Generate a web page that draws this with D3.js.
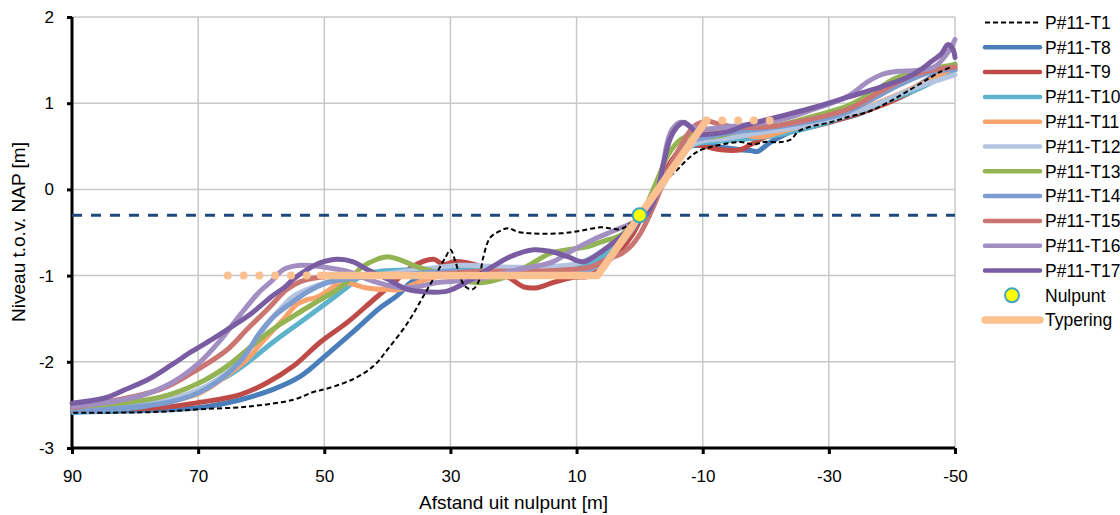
<!DOCTYPE html>
<html><head><meta charset="utf-8">
<script src="https://cdn.jsdelivr.net/npm/d3@7"></script>
<style>
html,body{margin:0;padding:0;background:#fff;}
svg{display:block;}
text{font-family:"Liberation Sans",Arial,sans-serif;fill:#000;}
</style></head><body>
<svg id="chart" width="1120" height="515"></svg>
<script>
// ---- data (distance [m], level [m NAP]) ----
const xTicks = [90,70,50,30,10,-10,-30,-50];
const yTicks = [-3,-2,-1,0,1,2];
const seriesNames = ["P#11-T1","P#11-T8","P#11-T9","P#11-T10","P#11-T11","P#11-T12","P#11-T13","P#11-T14","P#11-T15","P#11-T16","P#11-T17"];
const seriesColors = ["#000000","#4A7EBB","#BE4B48","#5DB3CB","#F8A36E","#B3C4E0","#94B454","#7D9CD0","#CB7573","#A28EC1","#7A5CA3"];

const t1 = [[89.8,-2.59],[84,-2.59],[76,-2.58],[69.7,-2.55],[62.2,-2.52],[54.9,-2.44],[51.7,-2.35],[49.5,-2.31],[45.4,-2.2],[42.2,-2.05],[40,-1.86],[36.8,-1.55],[34.3,-1.24],[32.1,-0.96],[30.8,-0.79],[30,-0.70],[29.2,-0.84],[28.4,-1.03],[27.6,-1.13],[26.5,-1.16],[25.6,-1.08],[24.8,-0.79],[23.7,-0.56],[22.1,-0.48],[20.8,-0.45],[19.4,-0.49],[17.3,-0.51],[12.5,-0.51],[9.4,-0.48],[6.2,-0.44],[3,-0.46],[1.1,-0.37],[-0.2,-0.28],[-1.7,-0.12],[-3.3,0.02],[-4.4,0.12],[-6,0.23],[-7.6,0.35],[-9.2,0.44],[-11.7,0.50],[-16,0.55],[-18.1,0.52],[-19.7,0.55],[-22.4,0.55],[-24,0.58],[-25.1,0.67],[-26.7,0.72],[-30.3,0.78],[-33,0.84],[-36.2,0.90],[-39.4,1.01],[-42.5,1.14],[-45.7,1.28],[-47.8,1.37],[-49.4,1.42]];
const t8 = [[89.8,-2.58],[69.7,-2.53],[63.3,-2.44],[58.1,-2.32],[53.8,-2.17],[49.5,-1.91],[45.4,-1.65],[41.1,-1.37],[38.4,-1.23],[36.3,-1.08],[33.2,-0.96],[30,-0.94],[25.2,-0.97],[18.9,-1.0],[12.5,-0.97],[7.8,-0.95],[4.6,-0.81],[2.2,-0.58],[-0.2,-0.31],[-2.5,-0.02],[-4.9,0.29],[-7.3,0.49],[-9.7,0.51],[-12.9,0.49],[-16,0.46],[-17.6,0.45],[-18.7,0.44],[-20.8,0.55],[-25.1,0.70],[-30.3,0.79],[-34.6,0.87],[-38.3,0.99],[-40.3,1.07],[-43,1.16],[-46.2,1.30],[-48.9,1.42],[-50,1.45]];
const t9 = [[89.8,-2.55],[76,-2.53],[69.7,-2.47],[63.3,-2.38],[59,-2.24],[54.9,-2.05],[50.6,-1.77],[46.3,-1.54],[42.2,-1.28],[39,-1.08],[35.9,-0.89],[32.7,-0.81],[31.1,-0.87],[29.5,-0.84],[28.4,-0.84],[26.3,-0.87],[23.7,-0.94],[21,-1.01],[18.4,-1.13],[16.2,-1.14],[13.7,-1.08],[10.5,-1.02],[7.8,-1.0],[5.4,-0.84],[3,-0.70],[1.1,-0.52],[-0.9,-0.23],[-3,0.06],[-5.2,0.35],[-7.3,0.52],[-9.7,0.51],[-12.9,0.46],[-16,0.46],[-17.6,0.52],[-20,0.61],[-24,0.67],[-30.3,0.78],[-36.7,0.93],[-41.4,1.07],[-46.2,1.25],[-50,1.39]];
const t10 = [[89.8,-2.59],[78.7,-2.52],[74,-2.44],[69.7,-2.32],[65.4,-2.17],[62.2,-2.01],[58.1,-1.77],[53.8,-1.54],[49.5,-1.31],[46.3,-1.13],[44.3,-1.01],[41.1,-0.95],[33.7,-0.93],[26.8,-0.90],[18.9,-0.93],[11,-0.92],[7,-0.84],[3.8,-0.64],[-0.2,-0.32],[-3.3,0.06],[-6.2,0.37],[-8.6,0.52],[-11.3,0.55],[-16,0.58],[-22.4,0.64],[-30.3,0.79],[-38.3,1.0],[-44.6,1.18],[-50,1.39]];
const t11 = [[89.8,-2.55],[77.6,-2.49],[69.7,-2.36],[64.6,-2.11],[62.2,-1.97],[60.2,-1.80],[58.3,-1.65],[56.5,-1.51],[54.3,-1.33],[52.7,-1.28],[51.1,-1.25],[49.5,-1.18],[47.5,-1.08],[45.9,-1.09],[43.5,-1.14],[40.6,-1.16],[37.9,-1.16],[35.2,-1.08],[32.1,-1.01],[25.2,-0.97],[17.3,-0.99],[9.4,-0.96],[6.2,-0.87],[3,-0.64],[-0.2,-0.32],[-3.3,0.06],[-6.5,0.46],[-8.9,0.64],[-12.1,0.66],[-16,0.64],[-19.2,0.61],[-24,0.70],[-30.3,0.81],[-38.3,1.02],[-44.6,1.22],[-50,1.42]];
const t12 = [[89.8,-2.56],[77.6,-2.48],[69.7,-2.32],[64.4,-2.06],[62.2,-1.88],[60.2,-1.68],[57.5,-1.43],[54.9,-1.24],[51.7,-1.13],[49.5,-1.08],[46.7,-1.04],[41.1,-0.99],[34.8,-0.93],[28.4,-0.88],[22.1,-0.90],[15.7,-0.90],[9.4,-0.85],[4.6,-0.64],[-0.2,-0.32],[-3.3,0],[-6.2,0.35],[-8.4,0.52],[-10.5,0.57],[-13.7,0.59],[-19.2,0.66],[-25.6,0.73],[-31.9,0.84],[-38.3,1.01],[-43.8,1.18],[-50,1.33]];
const t13 = [[89.8,-2.53],[76,-2.41],[69.7,-2.24],[65.4,-2.05],[62.2,-1.86],[58.1,-1.62],[54.9,-1.47],[51.1,-1.30],[47.9,-1.16],[45.9,-1.04],[44,-0.90],[41.6,-0.81],[40,-0.78],[37.9,-0.82],[35.2,-0.90],[32.7,-0.95],[30,-1.01],[27.3,-1.07],[24.8,-1.08],[21,-1.01],[17.8,-0.89],[14.1,-0.74],[11.4,-0.70],[8.6,-0.67],[5.7,-0.60],[3,-0.53],[-0.2,-0.30],[-2.5,0.06],[-4.6,0.41],[-6.5,0.58],[-8.1,0.63],[-11.7,0.61],[-17.1,0.70],[-22.4,0.75],[-27.6,0.85],[-33,0.97],[-37.1,1.13],[-40.3,1.28],[-43.5,1.37],[-47.8,1.42],[-50,1.45]];
const t14 = [[89.8,-2.58],[74.1,-2.46],[68.9,-2.32],[63.5,-2.01],[61.7,-1.83],[60.2,-1.66],[58.1,-1.48],[54.9,-1.30],[52.7,-1.19],[49.5,-1.08],[45.4,-1.03],[37.9,-0.99],[30,-0.95],[22.1,-0.96],[14.2,-0.99],[7.8,-0.93],[3.8,-0.70],[-0.2,-0.32],[-3.3,0.06],[-6.2,0.41],[-8.1,0.56],[-10.5,0.60],[-14.4,0.66],[-19.2,0.70],[-25.6,0.77],[-31.9,0.87],[-36.7,1.04],[-41.4,1.22],[-46.2,1.36],[-50,1.39]];
const t15 = [[89.8,-2.53],[76,-2.32],[70.8,-2.12],[65.4,-1.86],[62.2,-1.62],[59,-1.39],[55.9,-1.16],[53.8,-1.07],[51.7,-1.03],[49,-1.01],[41.1,-1.0],[33.2,-0.99],[25.2,-0.95],[17.3,-0.95],[11,-0.93],[7.8,-0.90],[5.1,-0.81],[3,-0.75],[1.4,-0.66],[-0.2,-0.50],[-2.2,-0.20],[-4.4,0.20],[-6.5,0.50],[-8.6,0.73],[-10.8,0.79],[-12.9,0.75],[-16,0.72],[-20.8,0.73],[-25.6,0.79],[-33,0.93],[-38.3,1.14],[-43.5,1.33],[-47,1.39],[-50,1.42]];
const t16 = [[89.8,-2.52],[79.4,-2.40],[74.1,-2.24],[69.8,-2.01],[66.7,-1.77],[63.5,-1.47],[60.3,-1.19],[58.3,-1.06],[56.5,-0.93],[53.8,-0.88],[50.2,-0.90],[45.9,-0.96],[43.2,-1.04],[40.6,-1.10],[37.9,-1.14],[35.2,-1.13],[32.1,-1.08],[28.4,-1.06],[24.8,-1.03],[19.4,-0.93],[14.1,-0.85],[10.5,-0.70],[7.3,-0.58],[4.1,-0.48],[0.8,-0.37],[-1.4,-0.20],[-2.9,0],[-3.8,0.31],[-4.4,0.55],[-5.2,0.70],[-6.5,0.78],[-8.1,0.73],[-9.7,0.70],[-14.4,0.73],[-22.4,0.81],[-27.6,0.93],[-33,1.08],[-36.2,1.25],[-38.3,1.33],[-41,1.37],[-44.1,1.38],[-46.7,1.42],[-48.9,1.59],[-50,1.74]];
const t17 = [[90,-2.48],[84.8,-2.42],[82.1,-2.34],[77.8,-2.20],[74.1,-2.03],[71,-1.88],[67.8,-1.74],[64.6,-1.59],[61.4,-1.43],[58.3,-1.24],[56.2,-1.13],[54.9,-1.04],[52.7,-0.93],[50.6,-0.85],[47.9,-0.81],[45.4,-0.84],[43.2,-0.93],[40,-1.04],[36.8,-1.16],[33.7,-1.19],[30.5,-1.18],[27.3,-1.07],[23.2,-0.89],[20.5,-0.78],[16.8,-0.70],[14.1,-0.72],[11.4,-0.78],[8.9,-0.84],[6.2,-0.73],[3.5,-0.58],[1,-0.43],[-1.3,-0.27],[-2.9,0],[-3.8,0.31],[-4.9,0.60],[-6,0.73],[-7,0.78],[-8.1,0.72],[-9.2,0.64],[-10.8,0.64],[-14,0.67],[-17.1,0.75],[-22.4,0.85],[-27.6,0.95],[-33,1.07],[-38.3,1.19],[-42.5,1.30],[-44.6,1.39],[-46.2,1.48],[-47.8,1.57],[-48.9,1.68],[-49.7,1.62],[-50,1.53]];

const typering = [[50.6,-1],[6.7,-1],[-10.6,0.8]];
const typeringLeftExt = [[65.3,-1],[50.6,-1]];
const typeringRightExt = [[-10.6,0.8],[-21.1,0.8]];
const nulpunt = [[0,-0.3]];
const waterLevel = -0.3;

const profiles = [t1,t8,t9,t10,t11,t12,t13,t14,t15,t16,t17];

// ---- drawing ----
const svg = d3.select("#chart");
const L=72, R=955, T=17, B=448;
const x = d3.scaleLinear().domain([90,-50]).range([L,R]);
const y = d3.scaleLinear().domain([-3,2]).range([B,T]);

// grid
const grid = svg.append("g").attr("stroke","#C8C8C8").attr("stroke-width",1.5);
grid.selectAll("line.v").data(xTicks.slice(1)).join("line")
  .attr("x1",d=>x(d)).attr("x2",d=>x(d)).attr("y1",T).attr("y2",B);
grid.selectAll("line.h").data(yTicks.slice(1)).join("line")
  .attr("x1",L).attr("x2",R).attr("y1",d=>y(d)).attr("y2",d=>y(d));

// axes
const fmt = d => String(d);
const xAxis = d3.axisBottom(x).tickValues(xTicks).tickSize(6).tickPadding(16).tickFormat(fmt);
const yAxis = d3.axisLeft(y).tickValues(yTicks).tickSize(5).tickPadding(13).tickFormat(fmt);
const gx = svg.append("g").attr("transform",`translate(0,${B})`).call(xAxis);
const gy = svg.append("g").attr("transform",`translate(${L},0)`).call(yAxis);
[gx,gy].forEach(g=>{
  g.select(".domain").attr("stroke","#000").attr("stroke-width",3);
  g.selectAll(".tick line").attr("stroke","#000").attr("stroke-width",3);
  g.selectAll(".tick text").attr("font-family","'Liberation Sans',sans-serif").attr("font-size",17).attr("fill","#000");
});
gy.select(".domain").attr("d",`M0,${T}V${B}`);
gx.select(".domain").attr("d",`M${L},0H${R}`);

// water level
svg.append("line").attr("x1",x(90)).attr("x2",x(-50)).attr("y1",y(waterLevel)).attr("y2",y(waterLevel))
  .attr("stroke","#1F497D").attr("stroke-width",3).attr("stroke-dasharray","10,9");

const line = d3.line().x(d=>x(d[0])).y(d=>y(d[1])).curve(d3.curveCatmullRom.alpha(0.5));
const gl = svg.append("g").attr("fill","none").attr("stroke-linejoin","round").attr("stroke-linecap","round");
// colored profiles
profiles.forEach((p,i)=>{ if(i===0) return;
  gl.append("path").attr("d",line(p)).attr("stroke",seriesColors[i]).attr("stroke-width",5);
});
gl.append("path").attr("d",line(t1)).attr("stroke","#000").attr("stroke-width",2).attr("stroke-dasharray","5,3").attr("stroke-linecap","butt");

// typering
const lin = d3.line().x(d=>x(d[0])).y(d=>y(d[1]));
gl.append("path").attr("d",lin(typeringLeftExt)).attr("stroke","#FAC090").attr("stroke-width",8).attr("stroke-dasharray","0,15.8");
gl.append("path").attr("d",lin(typeringRightExt)).attr("stroke","#FAC090").attr("stroke-width",8).attr("stroke-dasharray","0,15.8");
gl.append("path").attr("d",lin(typering)).attr("stroke","#FAC090").attr("stroke-width",7.5);

// nulpunt
svg.selectAll("circle.nul").data(nulpunt).join("circle").attr("class","nul")
  .attr("cx",d=>x(d[0])).attr("cy",d=>y(d[1])).attr("r",7)
  .attr("fill","#FFFF00").attr("stroke","#3DA6C2").attr("stroke-width",2);

// axis titles
svg.append("text").attr("x",(L+R)/2).attr("y",509).attr("text-anchor","middle").attr("font-size",19).text("Afstand uit nulpunt [m]");
svg.append("text").attr("transform","translate(25,232) rotate(-90)").attr("text-anchor","middle").attr("font-size",19).text("Niveau t.o.v. NAP [m]");

// legend
const lg = svg.append("g");
const ly0 = 22.5, ldy = 24.8;
seriesNames.forEach((n,i)=>{
  const yy = ly0 + i*ldy;
  const l = lg.append("line").attr("x1",985).attr("x2",1040).attr("y1",yy).attr("y2",yy).attr("stroke",seriesColors[i]);
  if(i===0) l.attr("stroke-width",1.8).attr("stroke-dasharray","5,3");
  else l.attr("stroke-width",4.5).attr("stroke-linecap","round");
  lg.append("text").attr("x",1045).attr("y",yy).attr("dy","0.36em").attr("font-size",17.5).text(n);
});
{
  const yy = ly0 + 11*ldy;
  lg.append("circle").attr("cx",1012).attr("cy",yy).attr("r",7).attr("fill","#FFFF00").attr("stroke","#3DA6C2").attr("stroke-width",2);
  lg.append("text").attr("x",1045).attr("y",yy).attr("dy","0.36em").attr("font-size",17.5).text("Nulpunt");
  const y2 = ly0 + 12*ldy;
  lg.append("line").attr("x1",985).attr("x2",1040).attr("y1",y2).attr("y2",y2).attr("stroke","#FAC090").attr("stroke-width",7.5).attr("stroke-linecap","round");
  lg.append("text").attr("x",1045).attr("y",y2).attr("dy","0.36em").attr("font-size",17.5).text("Typering");
}
</script></body></html>
